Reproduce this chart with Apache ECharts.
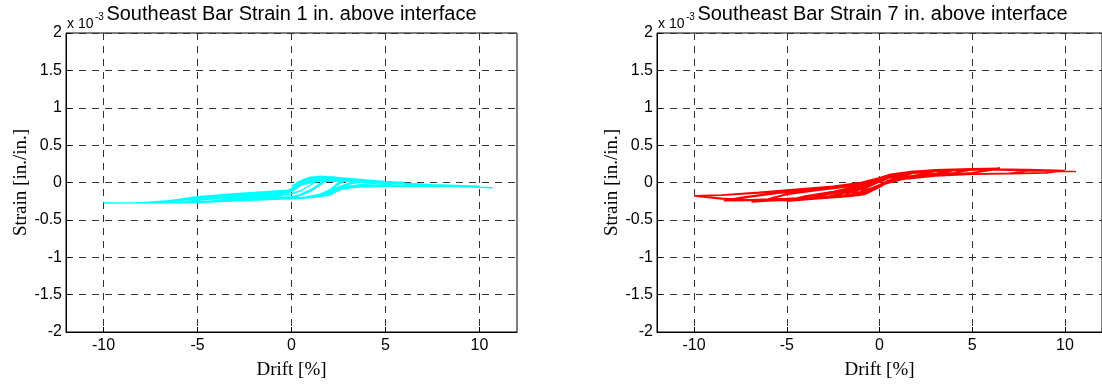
<!DOCTYPE html>
<html>
<head>
<meta charset="utf-8">
<script src="https://cdn.jsdelivr.net/npm/echarts@6/dist/echarts.min.js"></script>
<style>html,body{margin:0;padding:0;background:#fff}#c{width:1102px;height:385px}</style>
</head>
<body>
<div id="c"></div>
<script>
// Tick labels
const xTicks = [-10, -5, 0, 5, 10];
const yMin = -2, yMax = 2, yStep = 0.5;
const xMin = -12, xMax = 12;

const titles = ['Southeast Bar Strain 1 in. above interface', 'Southeast Bar Strain 7 in. above interface'];
const xName = 'Drift [%]';
const yName = 'Strain [in./in.]';

// Gage 1 in. above interface (strain x 10^-3)
const cyanDrift = [
  0, 0.4, 1.0, 0.6, 0.2, 0, -0.5, -1, -0.6, -0.2, 0,
  0.4, 1.0, 1.5, 1.1, 0.5, 0, -0.8, -1.5, -1.0, -0.4, 0,
  0.3, 0.9, 1.5, 2.0, 1.6, 1.0, 0.4, 0, -1, -2, -1.3, -0.6, 0,
  0.3, 0.9, 1.5, 2.0, 1.6, 1.0, 0.4, 0, -1, -2, -1.3, -0.6, 0,
  0.3, 0.9, 1.5, 2.2, 3, 2.5, 2.1, 1.5, 0.6, 0, -1, -2, -3, -2.2, -1.2, -0.4, 0,
  0.3, 0.9, 1.5, 2.2, 3, 2.5, 2.1, 1.5, 0.6, 0, -1, -2, -3, -2.2, -1.2, -0.4, 0,
  0.4, 1.0, 1.6, 2.5, 4, 3.2, 2.5, 2.1, 1.5, 0.6, 0, -1.2, -2.5, -4, -3.2, -2, -0.8, 0,
  0.4, 1.0, 1.6, 2.5, 4, 3.2, 2.5, 2.1, 1.5, 0.6, 0, -1.2, -2.5, -4, -3.2, -2, -0.8, 0,
  0.4, 1.1, 1.8, 3, 5, 4, 3, 2.5, 2.1, 1.4, 0.5, 0, -1.5, -3, -5, -4, -2.8, -1.5, -0.5, 0,
  0.4, 1.1, 1.8, 3, 5, 4, 3, 2.5, 2.1, 1.4, 0.5, 0, -1.5, -3, -5, -4, -2.8, -1.5, -0.5, 0,
  0.5, 1.2, 2, 3.5, 6, 4.8, 3.5, 2.6, 2.1, 1.3, 0.4, 0, -2, -4, -6, -4.8, -3.2, -1.8, -0.6, 0,
  0.5, 1.2, 2, 3.5, 6, 4.8, 3.5, 2.6, 2.1, 1.3, 0.4, 0, -2, -4, -6, -4.8, -3.2, -1.8, -0.6, 0,
  0.5, 1.3, 2.2, 4, 6, 8, 6.5, 5, 3.5, 2.6, 2.0, 1.0, 0.2, -2, -4, -6, -8, -6.5, -5, -3.5, -2, -0.5, 0,
  0.5, 1.3, 2.2, 4, 6, 8, 6.5, 5, 3.5, 2.6, 2.0, 1.0, 0.2, -2, -4, -6, -8, -6.5, -5, -3.5, -2, -0.5, 0,
  0.5, 1.4, 2.5, 5, 7.5, 10, 8, 6, 4, 2.7, 2.1, 1.2, 0.3, -2, -5, -7.5, -10, -8.5, -7, -5, -3, -1, 0,
  0.5, 1.5, 3, 5, 7.5, 9, 10.7
];
const cyanStrain = [
  -0.05, 0.0, 0.04, -0.02, -0.09, -0.12, -0.15, -0.17, -0.14, -0.11, -0.08,
  -0.01, 0.05, 0.06, -0.02, -0.11, -0.15, -0.18, -0.2, -0.16, -0.12, -0.09,
  -0.01, 0.06, 0.075, 0.07, 0.0, -0.1, -0.17, -0.19, -0.2, -0.22, -0.17, -0.13, -0.1,
  -0.03, 0.04, 0.06, 0.055, -0.02, -0.12, -0.18, -0.2, -0.21, -0.225, -0.18, -0.14, -0.11,
  0.0, 0.065, 0.08, 0.075, 0.05, 0.0, -0.09, -0.16, -0.2, -0.21, -0.215, -0.225, -0.235, -0.2, -0.15, -0.12, -0.1,
  -0.02, 0.045, 0.06, 0.055, 0.035, -0.02, -0.11, -0.175, -0.205, -0.215, -0.22, -0.23, -0.245, -0.21, -0.16, -0.125, -0.105,
  0.01, 0.07, 0.08, 0.065, 0.035, 0.0, -0.06, -0.12, -0.17, -0.205, -0.215, -0.22, -0.235, -0.25, -0.22, -0.17, -0.13, -0.105,
  -0.01, 0.05, 0.06, 0.045, 0.02, -0.015, -0.07, -0.13, -0.18, -0.21, -0.215, -0.225, -0.24, -0.255, -0.225, -0.18, -0.135, -0.11,
  0.0, 0.06, 0.07, 0.05, 0.015, -0.02, -0.05, -0.08, -0.14, -0.18, -0.21, -0.215, -0.225, -0.24, -0.265, -0.24, -0.2, -0.15, -0.12, -0.105,
  -0.015, 0.045, 0.055, 0.035, 0.005, -0.025, -0.055, -0.09, -0.15, -0.19, -0.21, -0.215, -0.23, -0.245, -0.27, -0.245, -0.205, -0.16, -0.125, -0.11,
  0.0, 0.055, 0.06, 0.035, 0.0, -0.03, -0.05, -0.085, -0.15, -0.185, -0.21, -0.215, -0.23, -0.25, -0.27, -0.23, -0.19, -0.15, -0.115, -0.1,
  -0.015, 0.04, 0.045, 0.02, -0.01, -0.035, -0.055, -0.09, -0.16, -0.195, -0.212, -0.215, -0.235, -0.255, -0.272, -0.235, -0.195, -0.155, -0.12, -0.105,
  -0.01, 0.045, 0.05, 0.02, -0.01, -0.035, -0.04, -0.045, -0.055, -0.09, -0.16, -0.2, -0.215, -0.23, -0.25, -0.265, -0.27, -0.245, -0.21, -0.175, -0.14, -0.11, -0.1,
  -0.02, 0.03, 0.035, 0.01, -0.02, -0.04, -0.045, -0.05, -0.06, -0.095, -0.17, -0.205, -0.215, -0.235, -0.255, -0.268, -0.272, -0.25, -0.22, -0.18, -0.145, -0.115, -0.105,
  -0.02, 0.035, 0.04, 0.005, -0.03, -0.05, -0.05, -0.05, -0.05, -0.08, -0.15, -0.2, -0.215, -0.235, -0.265, -0.27, -0.275, -0.272, -0.26, -0.19, -0.15, -0.115, -0.1,
  -0.03, 0.02, 0.015, -0.01, -0.04, -0.055, -0.07
];

// Gage 7 in. above interface (strain x 10^-3)
const redDrift = [
  0, 0.5, 1.0, 0.5, 0, -0.5, -1, -0.5, 0,
  0.5, 1.5, 1.0, 0.4, 0, -0.6, -1.5, -1.0, -0.4, 0,
  0.5, 1.2, 2, 1.4, 0.6, 0, -0.7, -2, -1.4, -0.6, 0,
  0.5, 1.5, 3, 2.2, 1.1, 0.3, 0, -0.6, -1.5, -3, -2.2, -1.2, -0.4, 0,
  0.5, 1.5, 3, 2.2, 1.1, 0.3, 0, -0.6, -1.5, -3, -2.2, -1.2, -0.4, 0,
  0.5, 1.5, 3, 4, 3, 1.5, 0.5, 0, -0.6, -1.5, -3, -4, -3, -1.8, -0.8, 0,
  0.5, 1.5, 3, 4, 3, 1.5, 0.5, 0, -0.6, -1.5, -3, -4, -3, -1.8, -0.8, 0,
  0.6, 1.5, 3, 5, 4, 2.5, 1.2, 0.3, 0, -0.7, -2, -3.5, -5, -4, -2.5, -1.2, -0.3, 0,
  0.6, 1.5, 3, 5, 4, 2.5, 1.2, 0.3, 0, -0.7, -2, -3.5, -5, -4, -2.5, -1.2, -0.3, 0,
  0.6, 1.6, 3, 5, 6.5, 5, 3, 1.2, 0.3, 0, -0.8, -2.5, -4.5, -6.9, -6, -5, -3.5, -1.8, -0.6, 0,
  0.6, 1.6, 3, 5, 6.5, 5, 3, 1.2, 0.3, 0, -0.8, -2.5, -4.5, -6.9, -6, -5, -3.5, -1.8, -0.6, 0,
  0.6, 1.8, 3.5, 5.5, 8.5, 7, 5, 3, 1.2, 0.3, 0, -0.9, -3, -5, -7, -8.4, -7.5, -6, -4, -2, -0.7, 0,
  0.6, 1.8, 3.5, 5.5, 8.5, 7, 5, 3, 1.2, 0.3, 0, -0.9, -3, -5, -7, -8.4, -7.5, -6, -4, -2, -0.7, 0,
  0.6, 2, 4, 6, 8, 10, 9, 7, 5, 3, 1.2, 0.3, 0, -1, -3, -5, -7, -8.5, -10, -8.5, -6.5, -4.5, -2.5, -1, 0,
  0.6, 2, 4, 6, 8, 10, 9, 7, 5, 3, 1.2, 0.3, 0, -1, -3, -5, -7, -8.5, -10, -8.5, -6.5, -4.5, -2.5, -1, 0,
  0.6, 2, 4, 6, 8, 10.6
];
const redStrain = [
  0.0, 0.06, 0.09, 0.03, -0.03, -0.08, -0.11, -0.05, 0.01,
  0.07, 0.12, 0.07, 0.02, -0.04, -0.1, -0.15, -0.09, -0.02, 0.03,
  0.08, 0.12, 0.14, 0.09, 0.03, -0.05, -0.12, -0.18, -0.12, -0.04, 0.04,
  0.09, 0.13, 0.16, 0.11, 0.06, 0.0, -0.05, -0.12, -0.17, -0.2, -0.15, -0.08, 0.0, 0.05,
  0.07, 0.115, 0.145, 0.1, 0.05, -0.01, -0.06, -0.13, -0.18, -0.21, -0.16, -0.1, -0.02, 0.04,
  0.1, 0.14, 0.16, 0.17, 0.12, 0.07, 0.02, -0.05, -0.13, -0.175, -0.2, -0.22, -0.16, -0.1, -0.03, 0.05,
  0.09, 0.13, 0.15, 0.16, 0.11, 0.06, 0.01, -0.06, -0.14, -0.185, -0.21, -0.23, -0.17, -0.11, -0.04, 0.04,
  0.1, 0.14, 0.165, 0.18, 0.13, 0.1, 0.06, 0.0, -0.05, -0.14, -0.185, -0.21, -0.24, -0.18, -0.12, -0.05, 0.03, 0.06,
  0.09, 0.13, 0.155, 0.17, 0.125, 0.095, 0.05, -0.01, -0.06, -0.15, -0.195, -0.22, -0.25, -0.19, -0.13, -0.06, 0.02, 0.05,
  0.11, 0.145, 0.17, 0.185, 0.19, 0.13, 0.1, 0.05, -0.01, -0.06, -0.15, -0.19, -0.225, -0.26, -0.23, -0.16, -0.11, -0.06, 0.0, 0.06,
  0.1, 0.14, 0.16, 0.175, 0.18, 0.125, 0.095, 0.045, -0.015, -0.065, -0.16, -0.2, -0.235, -0.255, -0.22, -0.15, -0.1, -0.05, 0.01, 0.065,
  0.11, 0.15, 0.17, 0.185, 0.17, 0.12, 0.11, 0.09, 0.045, -0.015, -0.06, -0.16, -0.2, -0.23, -0.24, -0.245, -0.21, -0.16, -0.1, -0.05, 0.0, 0.06,
  0.1, 0.14, 0.165, 0.18, 0.165, 0.125, 0.115, 0.095, 0.05, -0.01, -0.055, -0.15, -0.19, -0.22, -0.235, -0.24, -0.2, -0.15, -0.09, -0.04, 0.01, 0.065,
  0.1, 0.15, 0.17, 0.18, 0.175, 0.16, 0.125, 0.115, 0.11, 0.085, 0.04, -0.02, -0.065, -0.17, -0.2, -0.225, -0.24, -0.22, -0.18, -0.17, -0.14, -0.1, -0.06, -0.01, 0.06,
  0.105, 0.145, 0.165, 0.175, 0.17, 0.155, 0.13, 0.12, 0.115, 0.09, 0.045, -0.015, -0.06, -0.16, -0.19, -0.215, -0.23, -0.21, -0.175, -0.165, -0.13, -0.09, -0.05, 0.0, 0.065,
  0.1, 0.14, 0.16, 0.17, 0.155, 0.148
];

function pairs(xs, ys) { return xs.map((x, i) => [x, ys[i]]); }

const chart = echarts.init(document.getElementById('c'), null, { renderer: 'canvas' });

const grids = [
  { left: 66, top: 33, width: 451, height: 305 },
  { left: 657, top: 33, width: 451, height: 305 }
];

function xAxis(i) {
  return {
    type: 'value', gridIndex: i, min: xMin, max: xMax,
    name: xName, nameLocation: 'middle', nameGap: 29,
    nameTextStyle: { fontFamily: 'Liberation Serif', fontSize: 19, color: '#000' },
    axisLine: { show: true, onZero: false, lineStyle: { color: '#000', width: 1 } },
    axisTick: { show: true, inside: true, length: 5, customValues: xTicks, lineStyle: { color: '#000' } },
    axisLabel: { customValues: xTicks, fontFamily: 'Liberation Sans', fontSize: 16, color: '#000', margin: 6 },
    splitLine: { show: true, lineStyle: { color: '#333', type: [7, 6], width: 1 } }
  };
}
function yAxis(i) {
  return {
    type: 'value', gridIndex: i, min: yMin, max: yMax, interval: yStep,
    name: yName, nameLocation: 'middle', nameGap: 35, nameRotate: 90,
    nameTextStyle: { fontFamily: 'Liberation Serif', fontSize: 19, color: '#000' },
    axisLine: { show: true, onZero: false, lineStyle: { color: '#000', width: 1 } },
    axisTick: { show: true, inside: true, length: 5, lineStyle: { color: '#000' } },
    axisLabel: { fontFamily: 'Liberation Sans', fontSize: 16, color: '#000', margin: 4,
      formatter: v => String(Math.round(v * 10) / 10) },
    splitLine: { show: true, lineStyle: { color: '#333', type: [7, 6], width: 1 } }
  };
}

const graphics = [];
grids.forEach((g, i) => {
  const cx = g.left + g.width / 2;
  graphics.push({ type: 'text', x: cx, y: 4, style: { text: titles[i], font: '20px "Liberation Sans"', fill: '#000', textAlign: 'center' } });
  graphics.push({ type: 'text', x: g.left + 1, y: 17, style: { text: 'x 10', font: '14px "Liberation Sans"', fill: '#000' } });
  graphics.push({ type: 'text', x: g.left + 29, y: 12, style: { text: '-3', font: '10px "Liberation Sans"', fill: '#000' } });
});

chart.setOption({
  animation: false,
  backgroundColor: '#fff',
  grid: grids.map(g => Object.assign({ show: true, borderColor: '#000', borderWidth: 1, backgroundColor: 'transparent' }, g)),
  xAxis: [xAxis(0), xAxis(1)],
  yAxis: [yAxis(0), yAxis(1)],
  graphic: graphics,
  series: [
    { type: 'line', xAxisIndex: 0, yAxisIndex: 0, data: pairs(cyanDrift, cyanStrain), showSymbol: false, symbol: 'none',
      lineStyle: { color: '#00ffff', width: 1.4 }, z: 5 },
    { type: 'line', xAxisIndex: 1, yAxisIndex: 1, data: pairs(redDrift, redStrain), showSymbol: false, symbol: 'none',
      lineStyle: { color: '#ff0000', width: 1.4 }, z: 5 }
  ]
});
</script>
</body>
</html>
